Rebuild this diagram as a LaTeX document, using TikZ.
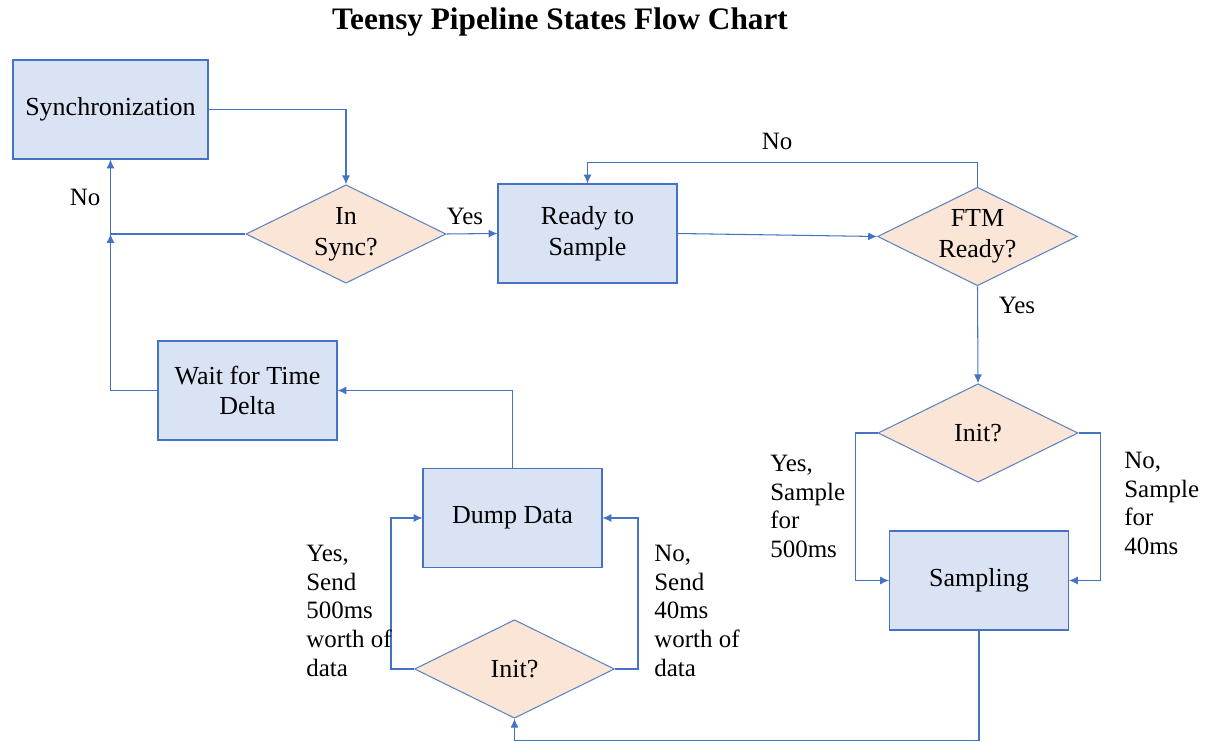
\documentclass[tikz,border=0pt]{standalone}
\usepackage{fontspec}
\setmainfont{Liberation Serif}
\usetikzlibrary{arrows.meta,positioning,shapes.geometric}

\definecolor{boxfill}{HTML}{DAE3F3}
\definecolor{boxline}{HTML}{4472C4}
\definecolor{decfill}{HTML}{FBE5D6}
\definecolor{decline}{HTML}{5B84C4}

\begin{document}
\begin{tikzpicture}[x=0.02cm,y=-0.02cm,
    state/.style={draw=boxline,fill=boxfill,line width=0.6pt,align=center,
        minimum height=1.98cm,font=\fontsize{14.8}{17.5}\selectfont},
    choice/.style={diamond,draw=decline,fill=decfill,line width=0.6pt,align=center,
        aspect=2,inner sep=1pt,minimum width=4cm,minimum height=1.97cm,
        font=\fontsize{14.8}{17.5}\selectfont},
    arr/.style={draw=boxline,line width=0.6pt,-{Latex[length=5pt,width=4.5pt]}},
    lbl/.style={align=left,inner sep=0pt,font=\fontsize{14.2}{16.3}\selectfont},
    side/.style={lbl,anchor=north west}]
    \useasboundingbox (0,0) rectangle (1207,742);

    \node[font=\fontsize{17.8}{20}\selectfont\bfseries] (title) at (560,22) {Teensy Pipeline States Flow Chart};

    % states
    \node[state,minimum width=3.9cm] (sync) at (110.5,109.5) {Synchronization};
    \node[state,minimum width=3.58cm] (ready) at (587.5,233.5) {Ready to\\Sample};
    \node[state,minimum width=3.58cm] (wait) at (247.5,390.5) {Wait for Time\\Delta};
    \node[state,minimum width=3.58cm] (dump) at (512.5,518) {Dump Data};
    \node[state,minimum width=3.58cm] (sampling) at (979,580.5) {Sampling};

    % decisions
    \node[choice] (insync) at (346,234) {In\\Sync?};
    \node[choice] (ftm) at (977.5,236.5) {FTM\\Ready?};
    \node[choice] (initA) at (978,433) {Init?};
    \node[choice] (initB) at (514.5,669) {Init?};

    \coordinate (join) at (sync.south |- insync.west);

    % connectors
    \draw[arr] (sync.east) -| (insync.north);
    \draw[arr] (insync.west) -| (sync.south);
    \draw[arr] (wait.west) -| (join);
    \draw[arr] (insync.east) -- (ready.west);
    \draw[arr] (ready.east) -- (ftm.west);
    \draw[arr] (ftm.north) -- ++(0,-24) -| (ready.north);
    \draw[arr] (ftm.south) -- (initA.north);
    \draw[arr] (initA.west) -- ++(-22,0) |- (sampling.west);
    \draw[arr] (initA.east) -- ++(22,0) |- (sampling.east);
    \draw[arr] (sampling.south) -- ++(0,110) -| (initB.south);
    \draw[arr] (initB.west) -- ++(-23,0) |- (dump.west);
    \draw[arr] (initB.east) -- ++(23,0) |- (dump.east);
    \draw[arr] (dump.north) |- (wait.east);

    % labels
    \node[lbl] (noSync) at (85,197) {No};
    \node[lbl] (yesSync) at (465,216) {Yes};
    \node[lbl] (noFtm) at (777,141) {No};
    \node[lbl] (yesFtm) at (1017,305) {Yes};
    \node[side] (yesLong) at (770,455) {Yes,\\Sample\\for\\500ms};
    \node[side] (noShort) at (1124,452) {No,\\Sample\\for\\40ms};
    \node[side] (yesSend) at (306,545) {Yes,\\Send\\500ms\\worth of\\data};
    \node[side] (noSend) at (654,545) {No,\\Send\\40ms\\worth of\\data};
\end{tikzpicture}
\end{document}
